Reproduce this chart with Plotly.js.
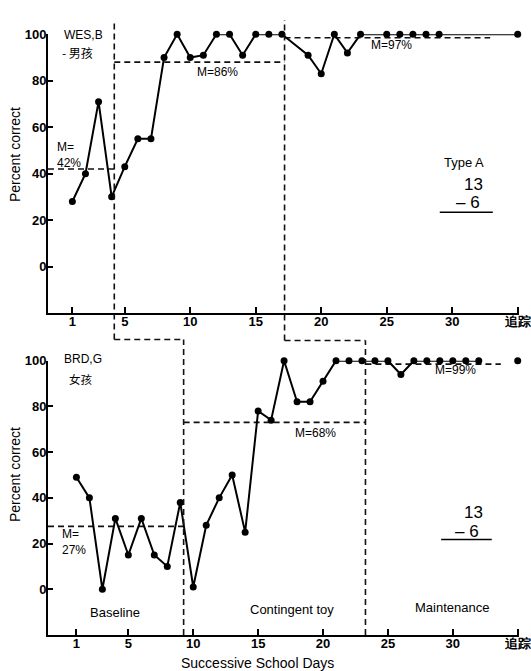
<!DOCTYPE html>
<html>
<head>
<meta charset="utf-8">
<script src="https://cdn.plot.ly/plotly-3.0.1.min.js"></script>
<style>html,body{margin:0;padding:0;background:#fff;}#chart{width:531px;height:671px;}</style>
</head>
<body>
<div id="chart"></div>
<script>
// ---- data ----
const tickDays = [1, 5, 10, 15, 20, 25, 30, 35];
const tickLabels = ['1', '5', '10', '15', '20', '25', '30', '追踪'];
const yTicks = [0, 20, 40, 60, 80, 100];

// Panel A: WES,B 男孩
const topDays = [1,2,3,4,5,6,7,8,9,10,11,12,13,14,15,16,17,19,20,21,22,23,25,26,27,28,29,35];
const topVals = [28,40,71,30,43,55,55,90,100,90,91,100,100,91,100,100,100,91,83,100,92,100,100,100,100,100,100,100];
const topPhaseChanges = [4.2, 17.2];
const topMeanLevels = [42, 88, 98.5];
const topMeanEnds = [-0.86, 4.2, 17.2, 32.9];
const topMeanLabels = ['M=<br>42%', 'M=86%', 'M=97%'];

// Panel B: BRD,G 女孩
const botDays = [1,2,3,4,5,6,7,8,9,10,11,12,13,14,15,16,17,18,19,20,21,22,23,24,25,26,27,28,29,30,31,32];
const botVals = [49,40,0,31,15,31,15,10,38,1,28,40,50,25,78,74,100,82,82,91,100,100,100,100,100,94,100,100,100,100,100,100];
const botFollowDay = [35];
const botFollowVal = [100];
const botPhaseChanges = [9.26, 23.27];
const botMeanLevels = [27.5, 73, 98.5];
const botMeanEnds = [-1.19, 9.26, 23.27, 33.7];
const botMeanLabels = ['M=<br>27%', 'M=68%', 'M=99%'];
const phaseNames = ['Baseline', 'Contingent toy', 'Maintenance'];

// ---- layout geometry ----
const W = 531, H = 671;
const topRange = [-0.86, 35.1];
const botRange = [-1.19, 35.1];
const topDomain = [1 - 313 / H, 1 - 34.3 / H];
const botDomain = [1 - 635 / H, 1 - 360.7 / H];
const FONT = 'Liberation Sans, Arial, sans-serif';
const CJK = 'Noto Sans CJK SC, sans-serif';

function px(range, v) { return (v - range[0]) / (range[1] - range[0]); }

const traces = [];
function meanTraces(ends, levels, xa, ya) {
  for (let i = 0; i < levels.length; i++) {
    traces.push({
      x: [ends[i], ends[i + 1]], y: [levels[i], levels[i]],
      xaxis: xa, yaxis: ya, mode: 'lines', hoverinfo: 'skip',
      line: {color: '#111', width: 1.6, dash: '6px,4px'}, showlegend: false, cliponaxis: false
    });
  }
}
meanTraces(topMeanEnds, topMeanLevels, 'x', 'y');
meanTraces(botMeanEnds, botMeanLevels, 'x2', 'y2');

const mk = {color: '#000', size: 7};
traces.push({x: topDays, y: topVals, xaxis: 'x', yaxis: 'y', mode: 'lines+markers',
  line: {color: '#000', width: 2}, marker: mk, showlegend: false, cliponaxis: false});
traces.push({x: botDays, y: botVals, xaxis: 'x2', yaxis: 'y2', mode: 'lines+markers',
  line: {color: '#000', width: 2}, marker: mk, showlegend: false, cliponaxis: false});
traces.push({x: botFollowDay, y: botFollowVal, xaxis: 'x2', yaxis: 'y2', mode: 'markers',
  marker: mk, showlegend: false, cliponaxis: false});

// ---- phase-change staircase lines ----
const shapes = [];
const dashLine = {color: '#111', width: 1.6, dash: '6px,4px'};
const stepY = [1 - 339.5 / H, 1 - 340.5 / H];
const topStart = 1 - 20 / H;
for (let i = 0; i < 2; i++) {
  shapes.push({type: 'line', xref: 'x', yref: 'paper', x0: topPhaseChanges[i], x1: topPhaseChanges[i],
    y0: stepY[i], y1: topStart, line: dashLine});
  shapes.push({type: 'line', xref: 'paper', yref: 'paper',
    x0: px(topRange, topPhaseChanges[i]), x1: px(botRange, botPhaseChanges[i]),
    y0: stepY[i], y1: stepY[i], line: dashLine});
  shapes.push({type: 'line', xref: 'x2', yref: 'paper', x0: botPhaseChanges[i], x1: botPhaseChanges[i],
    y0: botDomain[0], y1: stepY[i], line: dashLine});
}
// underline of the "13 − 6" problem
shapes.push({type: 'line', xref: 'x', yref: 'y', x0: 29.05, x1: 33.1, y0: 23.4, y1: 23.4, line: {color: '#000', width: 1.5}});
shapes.push({type: 'line', xref: 'x2', yref: 'y2', x0: 29.1, x1: 33.0, y0: 21.8, y1: 21.8, line: {color: '#000', width: 1.5}});

// ---- annotations ----
function ann(text, x, y, xref, yref, opts) {
  return Object.assign({text: text, x: x, y: y, xref: xref, yref: yref, showarrow: false,
    xanchor: 'center', yanchor: 'middle',
    font: {family: FONT, size: 12, color: '#000'}}, opts || {});
}
const annotations = [
  ann('WES,B', 0.18, 100, 'x', 'y', {xanchor: 'left', yshift: -1}),
  ann('- 男孩', 0.05, 92, 'x', 'y', {xanchor: 'left', font: {family: CJK, size: 12, color: '#000'}}),
  ann(topMeanLabels[0], -0.35, 48, 'x', 'y', {xanchor: 'left', align: 'left'}),
  ann(topMeanLabels[1], 12.1, 83.6, 'x', 'y'),
  ann(topMeanLabels[2], 25.4, 95.5, 'x', 'y'),
  ann('Type A', 30.9, 44.7, 'x', 'y', {font: {family: FONT, size: 13, color: '#000'}}),
  ann('13', 31.6, 35.3, 'x', 'y', {font: {family: FONT, size: 17, color: '#000'}}),
  ann('– 6', 31.2, 27.5, 'x', 'y', {font: {family: FONT, size: 17, color: '#000'}}),

  ann('BRD,G', -0.13, 100, 'x2', 'y2', {xanchor: 'left', yshift: 2}),
  ann('女孩', 1.37, 93, 'x2', 'y2', {yshift: -2, font: {family: CJK, size: 11.5, color: '#000'}}),
  ann(botMeanLabels[0], -0.28, 20.7, 'x2', 'y2', {xanchor: 'left', align: 'left'}),
  ann(botMeanLabels[1], 19.4, 68.5, 'x2', 'y2'),
  ann(botMeanLabels[2], 30.2, 95.9, 'x2', 'y2'),
  ann('13', 31.6, 33.6, 'x2', 'y2', {font: {family: FONT, size: 17, color: '#000'}}),
  ann('– 6', 31.1, 25.3, 'x2', 'y2', {font: {family: FONT, size: 17, color: '#000'}}),
  ann(phaseNames[0], 4.0, -10, 'x2', 'y2', {font: {family: FONT, size: 13, color: '#000'}}),
  ann(phaseNames[1], 17.6, -8.7, 'x2', 'y2', {font: {family: FONT, size: 13, color: '#000'}}),
  ann(phaseNames[2], 29.9, -7.8, 'x2', 'y2', {font: {family: FONT, size: 13, color: '#000'}}),

  ann('Percent correct', (15 - 48) / 471, 1 - 155 / H, 'paper', 'paper', {textangle: -90, font: {family: FONT, size: 14, color: '#000'}}),
  ann('Percent correct', (15 - 48) / 471, 1 - 475 / H, 'paper', 'paper', {textangle: -90, font: {family: FONT, size: 14, color: '#000'}}),
  ann('Successive School Days', (257.5 - 48) / 471, 1 - 663 / H, 'paper', 'paper', {font: {family: FONT, size: 14, color: '#000'}})
];

function xAxis(range, anchor) {
  return {range: range, anchor: anchor, domain: [0, 1], showline: true, linecolor: '#000', linewidth: 2,
    ticks: 'inside', ticklen: 6, tickwidth: 2, tickcolor: '#000', tickvals: tickDays, ticktext: tickLabels,
    ticklabelstandoff: -5,
    showgrid: false, zeroline: false, tickfont: {family: FONT, size: 13, color: '#000', weight: 'bold'}, fixedrange: true};
}
function yAxis(domain, anchor) {
  return {range: [-20, 100], domain: domain, anchor: anchor, showline: true, linecolor: '#000', linewidth: 2,
    ticks: 'inside', ticklen: 5, tickwidth: 2, tickcolor: '#000', tickvals: yTicks,
    ticklabelstandoff: -3,
    showgrid: false, zeroline: false, tickfont: {family: FONT, size: 13, color: '#000', weight: 'bold'}, fixedrange: true};
}

const layout = {
  width: W, height: H,
  margin: {l: 48, r: 12, t: 0, b: 0},
  paper_bgcolor: '#fff', plot_bgcolor: '#fff',
  showlegend: false,
  xaxis: xAxis(topRange, 'y'),
  yaxis: yAxis(topDomain, 'x'),
  xaxis2: xAxis(botRange, 'y2'),
  yaxis2: yAxis(botDomain, 'x2'),
  shapes: shapes,
  annotations: annotations,
  font: {family: FONT, color: '#000'}
};

Plotly.newPlot('chart', traces, layout, {displayModeBar: false, staticPlot: true});
</script>
</body>
</html>
